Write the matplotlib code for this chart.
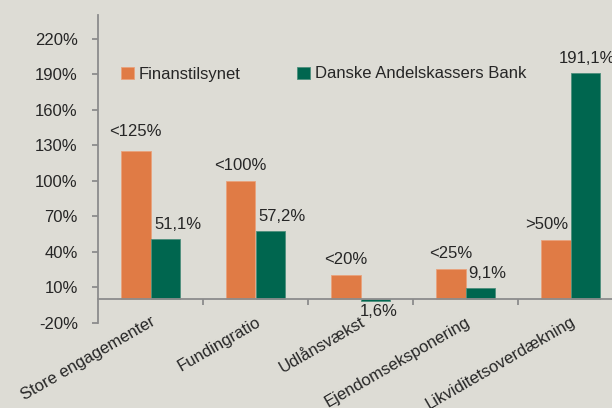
import numpy as np
import matplotlib
matplotlib.use("Agg")
import matplotlib.pyplot as plt
from matplotlib.ticker import FixedLocator

# Data
categories = ["Store engagementer", "Fundingratio", "Udlånsvækst",
              "Ejendomseksponering", "Likviditetsoverdækning"]
finanstilsynet = [125, 100, 20, 25, 50]          # %
bank = [51.1, 57.2, -1.6, 9.1, 191.1]            # %
fin_labels = ["<125%", "<100%", "<20%", "<25%", ">50%"]
bank_labels = ["51,1%", "57,2%", "1,6%", "9,1%", "191,1%"]
series_names = ["Finanstilsynet", "Danske Andelskassers Bank"]
yticks = [-20, 10, 40, 70, 100, 130, 160, 190, 220]

# Styling
bg = "#dddcd5"
orange = "#e07b45"
green = "#00664f"
axis_grey = "#8c8c8c"
text_col = "#262626"
fs = 12

plt.rcParams['font.family'] = ['Liberation Sans', 'DejaVu Sans']
plt.rcParams['font.size'] = fs

fig = plt.figure(figsize=(6.12, 4.08), dpi=100, facecolor=bg)
# axes runs past the right edge of the picture (as in the original)
ax = fig.add_axes([98/612, 85.3/408, 525/612, 307.7/408], facecolor=bg)

x = np.arange(len(categories))
w = 0.285
ax.bar(x - w/2, finanstilsynet, w, color=orange, edgecolor="#e9a27c", linewidth=0.6,
       label=series_names[0])
ax.bar(x + w/2, bank, w, color=green, edgecolor="#4d8f7c", linewidth=0.6,
       label=series_names[1])

ax.set_xlim(-0.5, len(categories) - 0.5)
ax.set_ylim(-20, 240)

# value labels (x offsets in px to mimic the original)
fin_dx = [0, 0, 0, 0, -9]
bank_dx = [12, 12, 3, 7, 2]
for i in range(len(categories)):
    gap = 12 if i == 0 else 8
    ax.annotate(fin_labels[i], (x[i] - w/2, finanstilsynet[i]),
                xytext=(fin_dx[i] * 0.72, gap * 0.72), textcoords="offset points",
                ha="center", va="bottom", color=text_col, fontsize=fs)
    if bank[i] >= 0:
        ax.annotate(bank_labels[i], (x[i] + w/2, bank[i]),
                    xytext=(bank_dx[i] * 0.72, 7 * 0.72), textcoords="offset points",
                    ha="center", va="bottom", color=text_col, fontsize=fs)
    else:
        ax.annotate(bank_labels[i], (x[i] + w/2, bank[i]),
                    xytext=(bank_dx[i] * 0.72, -3 * 0.72), textcoords="offset points",
                    ha="center", va="top", color=text_col, fontsize=fs)

# spines
for s in ["top", "right"]:
    ax.spines[s].set_visible(False)
ax.spines["bottom"].set_position(("data", 0))
ax.spines["bottom"].set_color(axis_grey)
ax.spines["left"].set_color(axis_grey)
ax.spines["bottom"].set_linewidth(1.3)
ax.spines["left"].set_linewidth(1.3)

ax.set_yticks(yticks)
ax.set_yticklabels([f"{v}%" for v in yticks])
ax.tick_params(axis="y", length=4.5, width=1.3, color=axis_grey, pad=10,
               labelcolor=text_col, labelsize=fs)

ax.set_xticks(x)
ax.set_xticklabels(categories, rotation=30, ha="right", rotation_mode="anchor")
ax.tick_params(axis="x", which="major", length=0, pad=11, labelcolor=text_col, labelsize=fs)
ax.xaxis.set_minor_locator(FixedLocator(x[:-1] + 0.5))
ax.tick_params(axis="x", which="minor", length=4, width=1.3, color=axis_grey, direction="out")
for lab in ax.get_xticklabels():
    lab.set_va("top")

leg = ax.legend(loc="center left", bbox_to_anchor=(121/612, 1 - 74/408),
                bbox_transform=fig.transFigure, ncol=2, frameon=False,
                handlelength=0.75, handleheight=0.7, handletextpad=0.3,
                columnspacing=3.4, borderpad=0, borderaxespad=0, fontsize=fs)
for t in leg.get_texts():
    t.set_color(text_col)

fig.savefig("out.png", dpi=100, facecolor=bg)
